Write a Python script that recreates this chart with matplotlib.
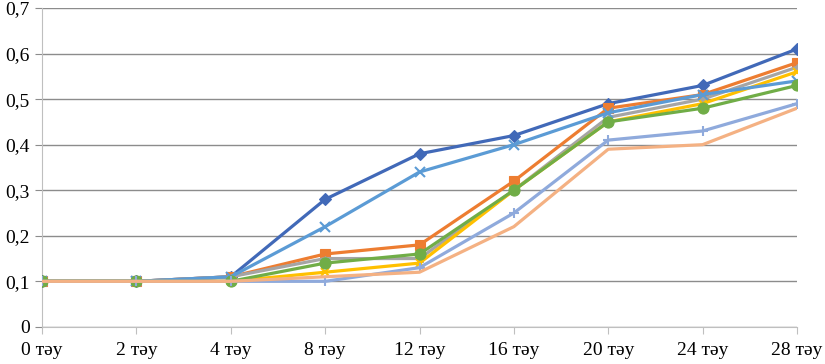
import matplotlib
matplotlib.use('Agg')
import matplotlib.pyplot as plt
from matplotlib.ticker import FuncFormatter

plt.rcParams['font.family'] = ['Liberation Serif', 'DejaVu Serif']

# категориялар
days = ['0 тәу', '2 тәу', '4 тәу', '8 тәу', '12 тәу', '16 тәу', '20 тәу', '24 тәу', '28 тәу']

s1 = [0.10, 0.10, 0.11, 0.28, 0.38, 0.42, 0.49, 0.53, 0.61]
s2 = [0.10, 0.10, 0.11, 0.16, 0.18, 0.32, 0.48, 0.51, 0.58]
s3 = [0.10, 0.10, 0.11, 0.15, 0.15, 0.30, 0.46, 0.50, 0.57]
s4 = [0.10, 0.10, 0.10, 0.12, 0.14, 0.30, 0.45, 0.49, 0.56]
s5 = [0.10, 0.10, 0.11, 0.22, 0.34, 0.40, 0.47, 0.51, 0.54]
s6 = [0.10, 0.10, 0.10, 0.14, 0.16, 0.30, 0.45, 0.48, 0.53]
s7 = [0.10, 0.10, 0.10, 0.10, 0.13, 0.25, 0.41, 0.43, 0.49]
s8 = [0.10, 0.10, 0.10, 0.11, 0.12, 0.22, 0.39, 0.40, 0.48]

series = [s1, s2, s3, s4, s5, s6, s7, s8]
colors = ['#4169B8', '#ED7D31', '#A5A5A5', '#FFC000', '#5B9BD5', '#70AD47', '#8FAADC', '#F4B183']
markers = ['D', 's', '^', 'x', 'x', 'o', '+', None]
msizes = [6, 7, 5, 6, 7, 8, 7, 0]

fig = plt.figure(figsize=(8.25, 3.64), dpi=100)
ax = fig.add_axes([0.051, 0.102, 0.915, 0.876])

x = list(range(len(days)))
for vals, c, m, ms in zip(series, colors, markers, msizes):
    ax.plot(x, vals, color=c, lw=2.3, marker=m, markersize=ms,
            markeredgewidth=1.5 if m in ('x', '+') else 0.8, zorder=3)

ax.set_xlim(0, 8)
ax.set_ylim(0, 0.7)
ax.set_yticks([i / 10 for i in range(8)])
ax.yaxis.set_major_formatter(FuncFormatter(lambda v, p: '0' if v == 0 else f'{v:.1f}'.replace('.', ',')))
ax.set_xticks(x)
ax.set_xticklabels(days)

ax.grid(axis='y', color='#8C8C8C', lw=1.0)
ax.set_axisbelow(True)
for side in ['top', 'right']:
    ax.spines[side].set_visible(False)
ax.spines['left'].set_color('#BFBFBF')
ax.spines['bottom'].set_color('#BFBFBF')
ax.tick_params(axis='y', length=5, color='#8C8C8C', labelsize=14, pad=4)
ax.tick_params(axis='x', length=5, color='#BFBFBF', labelsize=14, pad=6)

fig.savefig('out.png', dpi=100)
